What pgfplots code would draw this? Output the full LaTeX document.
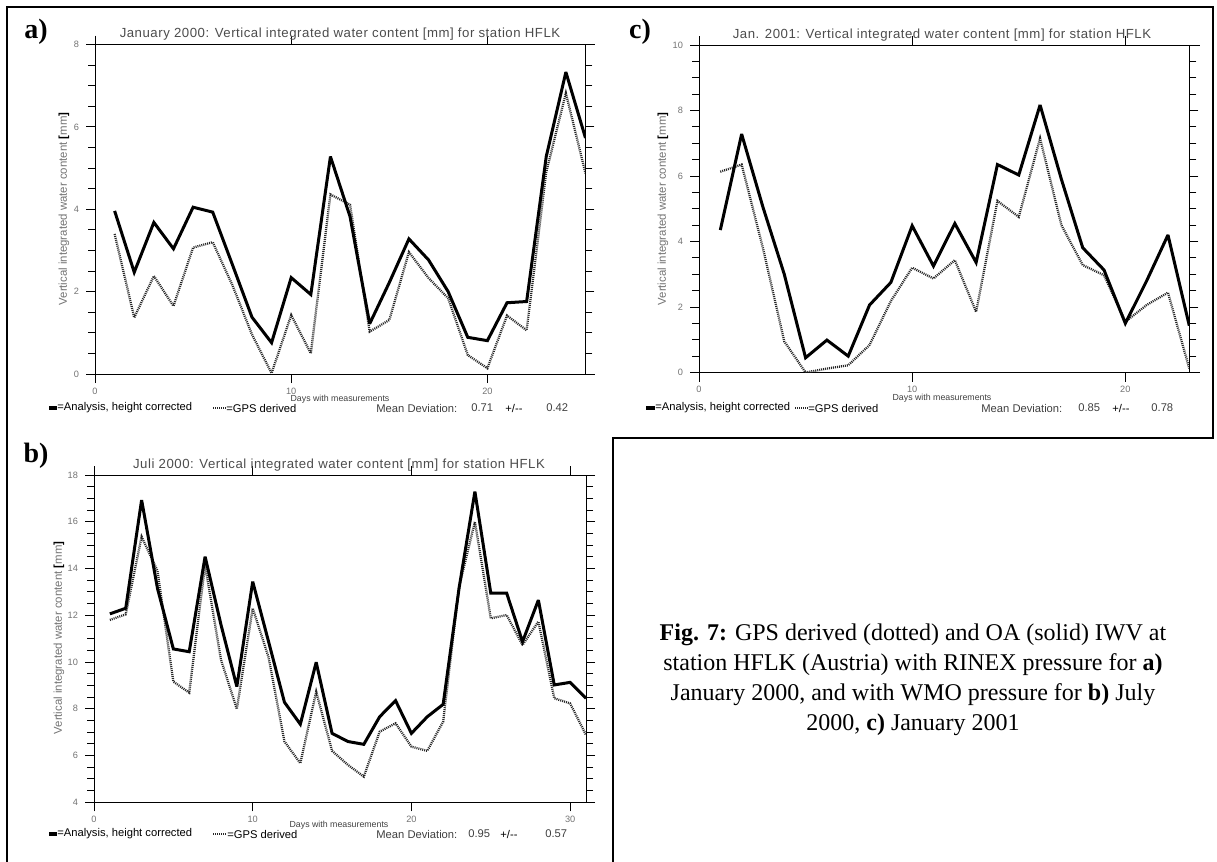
\documentclass[border=0pt]{standalone}
\usepackage{pgfplots}
\pgfplotsset{compat=1.18}
\usepackage{pgfplotstable}
\usepackage{fontspec}
\setmainfont{Liberation Serif}
\newfontfamily\hers{Liberation Sans}
\newfontfamily\herswide[LetterSpace=4]{Liberation Sans}
\newcommand{\tickf}{\hers\fontsize{4.6}{5}\selectfont}
\newcommand{\titf}{\herswide\fontsize{6.6}{7}\selectfont}
\newcommand{\legf}{\hers\fontsize{5.6}{6.5}\selectfont}
\newcommand{\ylf}{\hers\fontsize{5.7}{6.5}\selectfont}
\newcommand{\xlf}{\hers\fontsize{4.4}{5}\selectfont}

\pgfplotstableread{
day oa gps
1 3.96 3.40
2 2.47 1.37
3 3.68 2.38
4 3.04 1.65
5 4.05 3.07
6 3.93 3.20
7 2.66 2.16
8 1.38 0.96
9 0.76 0.02
10 2.34 1.43
11 1.93 0.50
12 5.28 4.36
13 3.82 4.11
14 1.22 1.03
15 2.22 1.31
16 3.28 2.96
17 2.77 2.33
18 2.00 1.84
19 0.89 0.46
20 0.81 0.14
21 1.73 1.42
22 1.76 1.06
23 5.28 4.90
24 7.33 6.82
25 5.73 4.87
}\tabA

\pgfplotstableread{
day oa gps
1 4.35 6.13
2 7.28 6.35
3 5.05 3.80
4 3.00 0.95
5 0.45 0.00
6 0.99 0.12
7 0.50 0.22
8 2.06 0.84
9 2.75 2.18
10 4.48 3.20
11 3.25 2.87
12 4.55 3.43
13 3.36 1.85
14 6.35 5.24
15 6.03 4.75
16 8.17 7.15
17 5.90 4.50
18 3.81 3.28
19 3.13 2.97
20 1.50 1.55
21 2.80 2.06
22 4.20 2.44
23 1.43 0.12
}\tabC

\pgfplotstableread{
day oa gps
1 12.06 11.80
2 12.30 12.04
3 16.93 15.36
4 13.15 13.90
5 10.56 9.16
6 10.44 8.69
7 14.51 14.15
8 11.60 10.10
9 8.95 7.99
10 13.44 12.30
11 10.87 10.20
12 8.28 6.60
13 7.34 5.67
14 9.99 8.73
15 6.95 6.20
16 6.60 5.60
17 6.48 5.10
18 7.66 7.02
19 8.35 7.38
20 6.95 6.38
21 7.66 6.20
22 8.19 7.45
23 13.15 13.20
24 17.29 16.00
25 12.95 11.87
26 12.95 12.01
27 10.87 10.73
28 12.65 11.73
29 9.02 8.45
30 9.13 8.23
31 8.45 6.88
}\tabB

\tikzset{
  oal/.style={black, line width=1.5pt, line join=miter, miter limit=3},
  gpsl/.style={black!85, line width=1.15pt, dash pattern=on 0.5pt off 0.5pt},
}
\pgfplotsset{
  iwv/.style={
    scale only axis,
    anchor=south west,
    axis line style={line width=0.5pt},
    tick align=outside,
    major tick length=4.5pt,
    minor tick length=3.5pt,
    minor y tick num=3,
    tick style={black, line width=0.5pt},
    tick label style={font=\tickf, text=black!55},
    xticklabel style={yshift=1pt},
    /pgf/number format/assume math mode=true,
  },
}

\begin{document}
\begin{tikzpicture}

% panel a
\begin{axis}[iwv, at={(47.5pt,-187pt)}, width=245.25pt, height=164.75pt,
  xmin=0, xmax=25, ymin=0, ymax=8, xtick={0,10,20}, ytick={0,2,...,8}]
  \addplot[gpsl] table[x=day, y=gps] {\tabA};
  \addplot[oal] table[x=day, y=oa] {\tabA};
\end{axis}

% panel c
\begin{axis}[iwv, at={(349.5pt,-186.25pt)}, width=245.15pt, height=163.75pt,
  xmin=0, xmax=23, ymin=0, ymax=10, xtick={0,10,20}, ytick={0,2,...,10}]
  \addplot[gpsl] table[x=day, y=gps] {\tabC};
  \addplot[oal] table[x=day, y=oa] {\tabC};
\end{axis}

% panel b
\begin{axis}[iwv, at={(47pt,-401.15pt)}, width=246pt, height=163.65pt,
  xmin=0, xmax=31, ymin=4, ymax=18, xtick={0,10,20,30}, ytick={4,6,...,18}]
  \addplot[gpsl] table[x=day, y=gps] {\tabB};
  \addplot[oal] table[x=day, y=oa] {\tabB};
\end{axis}

\begin{scope}[x=0.5pt, y=-0.5pt]
  \useasboundingbox (0,0) rectangle (1217,862);
  % frames
  \draw[line width=1pt] (7,862) -- (7,7) -- (1213,7) -- (1213,438) -- (613,438) -- (613,862);
  % axis line extensions
  \draw[line width=0.5pt] (585.5,44.5) -- (595,44.5) (585.5,374) -- (595,374);
  \draw[line width=0.5pt] (1189,45) -- (1200,45) (1189,372.5) -- (1200,372.5);
  \draw[line width=0.5pt] (586,475) -- (595,475) (586,802.3) -- (595,802.3);
  % panel labels
  \node[font=\bfseries\fontsize{14}{14}\selectfont] at (36,32) {a)};
  \node[font=\bfseries\fontsize{14}{14}\selectfont] at (640,32) {c)};
  \node[font=\bfseries\fontsize{14}{14}\selectfont] at (36,456) {b)};
  % titles
  \node[font=\titf, text=black!70, anchor=base] at (340,38) {January 2000: Vertical integrated water content [mm] for station HFLK};
  \node[font=\titf, text=black!70, anchor=base] at (942,39) {Jan. 2001: Vertical integrated water content [mm] for station HFLK};
  \node[font=\titf, text=black!70, anchor=base] at (339,468) {Juli 2000: Vertical integrated water content [mm] for station HFLK};
  % y labels
  \node[rotate=90, font=\ylf, text=black!55] at (64,209) {Vertical integrated water content \textcolor{black}{\textbf{[}}mm\textcolor{black}{\textbf{]}}};
  \node[rotate=90, font=\ylf, text=black!55] at (663,209) {Vertical integrated water content \textcolor{black}{\textbf{[}}mm\textcolor{black}{\textbf{]}}};
  \node[rotate=90, font=\ylf, text=black!55] at (59,638) {Vertical integrated water content \textcolor{black}{\textbf{[}}mm\textcolor{black}{\textbf{]}}};
  % x labels
  \node[font=\xlf, text=black!75] at (340,399) {Days with measurements};
  \node[font=\xlf, text=black!75] at (942,398) {Days with measurements};
  \node[font=\xlf, text=black!75] at (339,825) {Days with measurements};
  % legends a
  \draw[line width=2pt] (49,408) -- (57,408);
  \node[font=\legf, anchor=west, inner sep=0pt] at (57,408) {=Analysis, height corrected};
  \draw[gpsl] (213,408) -- (226,408);
  \node[font=\legf, anchor=west, inner sep=0pt] at (226,408) {=GPS derived};
  \node[font=\legf, anchor=west, inner sep=0pt, text=black!75] at (376,408) {Mean Deviation:};
  \node[font=\legf, anchor=west, inner sep=0pt, text=black!75] at (471,408) {0.71};
  \node[font=\legf, anchor=west, inner sep=0pt] at (505,408) {+/--};
  \node[font=\legf, anchor=west, inner sep=0pt, text=black!75] at (546,408) {0.42};
  % legends c
  \draw[line width=2pt] (646,408) -- (655,408);
  \node[font=\legf, anchor=west, inner sep=0pt] at (655,408) {=Analysis, height corrected};
  \draw[gpsl] (795,408) -- (808,408);
  \node[font=\legf, anchor=west, inner sep=0pt] at (808,408) {=GPS derived};
  \node[font=\legf, anchor=west, inner sep=0pt, text=black!75] at (981,408) {Mean Deviation:};
  \node[font=\legf, anchor=west, inner sep=0pt, text=black!75] at (1078,408) {0.85};
  \node[font=\legf, anchor=west, inner sep=0pt] at (1112,408) {+/--};
  \node[font=\legf, anchor=west, inner sep=0pt, text=black!75] at (1151,408) {0.78};
  % legends b
  \draw[line width=2pt] (49,834) -- (57,834);
  \node[font=\legf, anchor=west, inner sep=0pt] at (57,834) {=Analysis, height corrected};
  \draw[gpsl] (213,834) -- (227,834);
  \node[font=\legf, anchor=west, inner sep=0pt] at (227,834) {=GPS derived};
  \node[font=\legf, anchor=west, inner sep=0pt, text=black!75] at (376,834) {Mean Deviation:};
  \node[font=\legf, anchor=west, inner sep=0pt, text=black!75] at (468,834) {0.95};
  \node[font=\legf, anchor=west, inner sep=0pt] at (500,834) {+/--};
  \node[font=\legf, anchor=west, inner sep=0pt, text=black!75] at (545,834) {0.57};
  % caption
  \node[align=center, font=\fontsize{12}{15}\selectfont] at (913,680)
    {\textbf{Fig. 7:} GPS derived (dotted) and OA (solid) IWV at\\
     station HFLK (Austria) with RINEX pressure for \textbf{a)}\\
     January 2000, and with WMO pressure for \textbf{b)} July\\
     2000, \textbf{c)} January 2001};
\end{scope}
\end{tikzpicture}
\end{document}
